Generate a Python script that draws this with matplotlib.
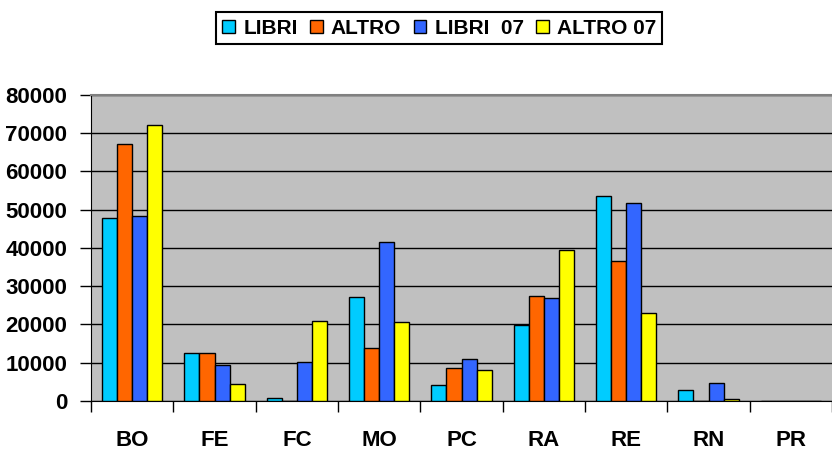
import numpy as np
import matplotlib.pyplot as plt

plt.rcParams['font.family'] = 'Liberation Sans'
plt.rcParams['font.weight'] = 'bold'

# Data
categories = ['BO', 'FE', 'FC', 'MO', 'PC', 'RA', 'RE', 'RN', 'PR']
libri    = [47800, 12500,   800, 27100,  4200, 19800, 53700, 2900, 0]
altro    = [67200, 12500,     0, 13900,  8600, 27500, 36700,    0, 0]
libri07  = [48400,  9400, 10200, 41600, 11100, 26800, 51800, 4600, 0]
altro07  = [72200,  4400, 21000, 20600,  8200, 39500, 23100,  400, 0]

series = [libri, altro, libri07, altro07]
labels = ['LIBRI', 'ALTRO', 'LIBRI  07', 'ALTRO 07']
colors = ['#00CCFF', '#FF6600', '#3366FF', '#FFFF00']

#%% Plotting
fig = plt.figure(figsize=(8.32, 4.53), dpi=100)
ax = fig.add_axes([0.1094, 0.1148, 0.8906, 0.6755])
ax.set_facecolor('#C0C0C0')

x = np.arange(len(categories))
w = 0.183
for k in range(4):
    ax.bar(x + (k - 1.5) * w, series[k], w, color=colors[k],
           edgecolor='black', linewidth=1.0, label=labels[k], zorder=3)

ax.set_xlim(-0.5, len(categories) - 0.5)
ax.set_ylim(0, 80000)
ax.set_yticks(np.arange(0, 80001, 10000))
ax.yaxis.grid(True, color='black', linewidth=1.0, zorder=1)
ax.set_axisbelow(True)

# category labels at centres, tick marks at boundaries
ax.set_xticks(x)
ax.set_xticklabels(categories, fontsize=16, fontweight='bold')
ax.set_xticks(np.arange(-0.5, len(categories)), minor=True)
ax.tick_params(axis='x', which='major', length=0, pad=21)
ax.tick_params(axis='x', which='minor', length=8, width=1, direction='out')
ax.tick_params(axis='y', length=8, width=1, direction='out', pad=9,
               labelsize=16)
for t in ax.get_yticklabels():
    t.set_fontweight('bold')

ax.spines['left'].set_color('black')
ax.spines['bottom'].set_color('black')
ax.spines['top'].set_color('#808080')
ax.spines['top'].set_linewidth(1.5)
ax.spines['right'].set_visible(False)

leg = fig.legend(loc='center', bbox_to_anchor=(0.528, 0.938), ncol=4,
                 fancybox=False, edgecolor='black', framealpha=1,
                 prop={'size': 15, 'weight': 'bold'},
                 handlelength=0.6, handleheight=0.6, handletextpad=0.4,
                 columnspacing=0.6, borderpad=0.3, borderaxespad=0)
leg.get_frame().set_linewidth(1.5)

fig.savefig('out.png', dpi=100)
